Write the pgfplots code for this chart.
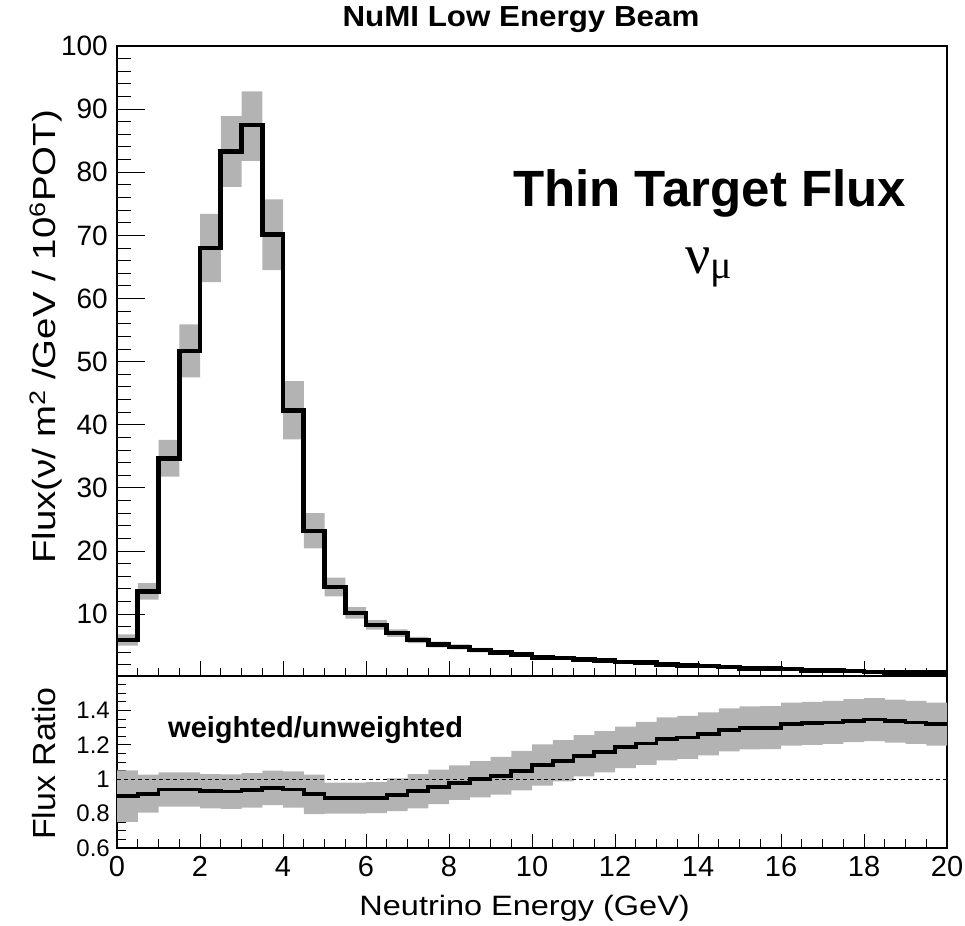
\documentclass[border=0pt]{standalone}
\usepackage{pgfplots}
\pgfplotsset{compat=1.18}
\usepgfplotslibrary{fillbetween}
\usepackage{pgfplotstable}
\usepackage{fontspec}
\setmainfont{Liberation Sans}
\newfontfamily\serifgreek{Liberation Serif}
\definecolor{bandgray}{RGB}{179,179,179}

\pgfplotstableread{
x y lo hi
0 5.9 5.0 6.8
0.5 13.6 12.3 14.9
1.0 34.7 31.8 37.6
1.5 51.7 47.5 55.9
2.0 68.0 62.6 73.4
2.5 83.3 77.7 88.9
3.0 87.5 81.8 92.8
3.5 70.1 64.5 75.7
4.0 42.3 37.7 46.9
4.5 23.2 20.4 26.0
5.0 14.3 12.8 15.8
5.5 10.2 9.3 11.1
6.0 8.3 7.55 9.05
6.5 7.0 6.4 7.6
7.0 5.9 5.4 6.4
7.5 5.2 4.75 5.65
8.0 4.8 4.4 5.2
8.5 4.3 3.95 4.65
9.0 3.9 3.6 4.2
9.5 3.65 3.35 3.95
10.0 3.15 2.9 3.4
10.5 3.05 2.8 3.3
11.0 2.8 2.58 3.02
11.5 2.65 2.45 2.85
12.0 2.4 2.2 2.6
12.5 2.3 2.12 2.48
13.0 2.05 1.89 2.21
13.5 1.9 1.75 2.05
14.0 1.8 1.66 1.94
14.5 1.6 1.47 1.73
15.0 1.4 1.28 1.52
15.5 1.35 1.24 1.46
16.0 1.28 1.18 1.38
16.5 1.1 1.01 1.19
17.0 1.05 0.96 1.14
17.5 1.0 0.92 1.08
18.0 0.85 0.78 0.92
18.5 0.8 0.73 0.87
19.0 0.78 0.71 0.85
19.5 0.72 0.66 0.78
20.0 0.72 0.66 0.78
}\topdata

\pgfplotstableread{
x y lo hi
0 0.902 0.752 1.052
0.5 0.916 0.806 1.026
1.0 0.94 0.84 1.04
1.5 0.94 0.84 1.04
2.0 0.93 0.83 1.03
2.5 0.928 0.828 1.028
3.0 0.935 0.835 1.035
3.5 0.95 0.85 1.05
4.0 0.94 0.835 1.045
4.5 0.912 0.797 1.027
5.0 0.89 0.80 0.98
5.5 0.89 0.80 0.98
6.0 0.893 0.803 0.983
6.5 0.91 0.815 1.005
7.0 0.93 0.83 1.03
7.5 0.955 0.855 1.055
8.0 0.98 0.88 1.08
8.5 1.0 0.895 1.105
9.0 1.02 0.91 1.13
9.5 1.05 0.935 1.165
10.0 1.083 0.963 1.203
10.5 1.107 0.987 1.227
11.0 1.136 1.016 1.256
11.5 1.16 1.04 1.28
12.0 1.185 1.065 1.305
12.5 1.208 1.083 1.333
13.0 1.234 1.109 1.359
13.5 1.243 1.118 1.368
14.0 1.263 1.138 1.388
14.5 1.287 1.162 1.412
15.0 1.298 1.173 1.423
15.5 1.30 1.175 1.425
16.0 1.32 1.195 1.445
16.5 1.325 1.2 1.45
17.0 1.33 1.205 1.455
17.5 1.34 1.215 1.465
18.0 1.347 1.222 1.472
18.5 1.337 1.212 1.462
19.0 1.33 1.205 1.455
19.5 1.32 1.195 1.445
20.0 1.32 1.195 1.445
}\ratiodata

\begin{document}
\begin{tikzpicture}[x=1pt,y=1pt]

% top panel: y ticks and data
\begin{axis}[
  at={(117pt,-46pt)}, anchor=north west,
  width=830pt, height=630pt, scale only axis,
  xmin=0, xmax=20, ymin=0.2, ymax=100,
  axis line style={line width=1.3pt},
  tick pos=left,
  xtick=\empty,
  ytick={10,20,...,100}, minor ytick={2,4,...,100},
  major tick length=28pt, minor tick length=14pt,
  tick style={line width=1pt, black},
  /pgf/number format/assume math mode=true,
  yticklabel style={font=\fontsize{28}{30}\selectfont, inner sep=0pt, xshift=-9pt},
]
\addplot[const plot, draw=none, name path=tup] table[x=x, y=hi] {\topdata};
\addplot[const plot, draw=none, name path=tlo] table[x=x, y=lo] {\topdata};
\addplot[bandgray, draw=none] fill between[of=tup and tlo];
\addplot[const plot, black, line width=4.6pt] table[x=x, y=y] {\topdata};
\end{axis}

% top panel: x ticks
\begin{axis}[
  at={(117pt,-46pt)}, anchor=north west,
  width=830pt, height=630pt, scale only axis,
  xmin=0, xmax=20, ymin=0.2, ymax=100,
  axis line style={line width=1.3pt},
  tick pos=left,
  xtick={0,2,...,20}, minor xtick={0,0.5,...,20}, xticklabels={},
  ytick=\empty,
  major tick length=15pt, minor tick length=8pt,
  tick style={line width=1pt, black},
]
\end{axis}

% ratio panel
\begin{axis}[
  at={(117pt,-676pt)}, anchor=north west,
  width=830pt, height=172pt, scale only axis,
  xmin=0, xmax=20, ymin=0.6, ymax=1.6,
  axis line style={line width=1.3pt},
  tick pos=left,
  xtick={0,2,...,20}, minor xtick={0,0.5,...,20},
  ytick={0.6,0.8,1,1.2,1.4}, minor ytick={0.6,0.65,...,1.6},
  major tick length=14pt, minor tick length=9pt,
  tick style={line width=1pt, black},
  /pgf/number format/assume math mode=true,
  yticklabel style={font=\fontsize{24}{26}\selectfont, inner sep=0pt, xshift=-7pt},
  xticklabel style={font=\fontsize{29}{31}\selectfont, inner sep=0pt, yshift=-8pt},
]
\addplot[const plot, draw=none, name path=rup] table[x=x, y=hi] {\ratiodata};
\addplot[const plot, draw=none, name path=rlo] table[x=x, y=lo] {\ratiodata};
\addplot[bandgray, draw=none] fill between[of=rup and rlo];
\addplot[black, line width=0.9pt, dash pattern=on 4pt off 3pt] coordinates {(0,1) (20,1)};
\addplot[const plot, black, line width=3.8pt] table[x=x, y=y] {\ratiodata};
\end{axis}

% texts
\node[anchor=base, inner sep=0pt] at (521,-27) {\scalebox{1.08}[1]{\fontsize{29}{31}\selectfont\bfseries NuMI Low Energy Beam}};
\node[anchor=base west, inner sep=0pt] at (513,-206.7) {\fontsize{51}{55}\selectfont\bfseries Thin Target Flux};
\node[anchor=base west, inner sep=0pt] at (685,-273) {\serifgreek\fontsize{56}{60}\selectfont ν\fontsize{40}{44}\selectfont\raisebox{-5pt}{μ}};
\node[anchor=base west, inner sep=0pt] at (168,-737) {\fontsize{29}{31}\selectfont\bfseries weighted/unweighted};
\node[anchor=base east, inner sep=0pt, rotate=90] at (55,-110) {\scalebox{1.2}[1]{\fontsize{32}{34}\selectfont Flux(ν/ m\textsuperscript{2} /GeV / 10\textsuperscript{6}POT)}};
\node[anchor=base east, inner sep=0pt, rotate=90] at (55,-687) {\scalebox{1.06}[1]{\fontsize{32}{34}\selectfont Flux Ratio}};
\node[anchor=base east, inner sep=0pt] at (690,-915) {\scalebox{1.16}[1]{\fontsize{28}{30}\selectfont Neutrino Energy (GeV)}};

\path[use as bounding box] (0,0) rectangle (965,-925);
\end{tikzpicture}
\end{document}
